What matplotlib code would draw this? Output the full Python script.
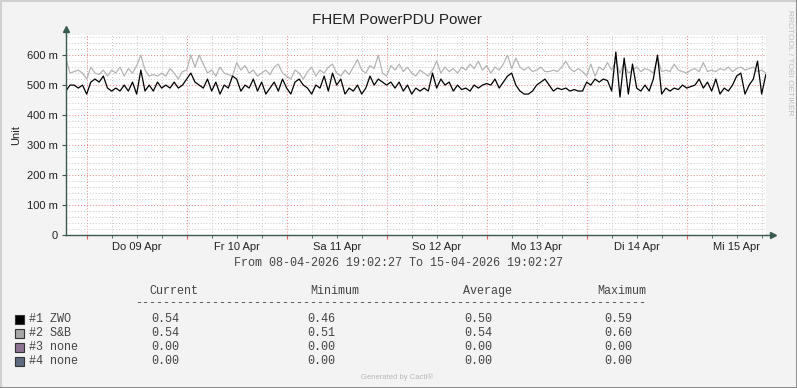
import matplotlib
matplotlib.use("Agg")
import matplotlib.pyplot as plt
import matplotlib.dates as mdates
from matplotlib.lines import Line2D
from matplotlib.patches import Rectangle
from matplotlib.ticker import MultipleLocator, FuncFormatter, NullFormatter
import pandas as pd

# hourly samples, 08-04-2026 19:00 .. 15-04-2026 19:00
start = "2026-04-08 19:00"
zwo = [
    0.48, 0.50, 0.50, 0.49, 0.50, 0.47, 0.51, 0.52, 0.51, 0.53,
    0.49, 0.48, 0.49, 0.48, 0.50, 0.48, 0.51, 0.47, 0.55, 0.48,
    0.50, 0.48, 0.51, 0.49, 0.50, 0.49, 0.51, 0.49, 0.50,
    0.52, 0.54, 0.51, 0.50, 0.49, 0.52, 0.48, 0.51, 0.47, 0.50,
    0.49, 0.53, 0.52, 0.48, 0.50, 0.49, 0.52, 0.48, 0.51, 0.47,
    0.49, 0.51, 0.48, 0.52, 0.49, 0.47, 0.51, 0.52, 0.50,
    0.49, 0.47, 0.50, 0.49, 0.53, 0.48, 0.54, 0.50, 0.52, 0.47,
    0.49, 0.48, 0.50, 0.47, 0.49, 0.53, 0.50, 0.52, 0.51, 0.50,
    0.51, 0.49, 0.51, 0.48, 0.50, 0.47, 0.49, 0.48, 0.49,
    0.48, 0.54, 0.49, 0.52, 0.50, 0.51, 0.48, 0.50, 0.485, 0.49,
    0.48, 0.50, 0.49, 0.50, 0.505, 0.50, 0.52, 0.49, 0.51, 0.53,
    0.54, 0.50, 0.48, 0.47, 0.47, 0.48, 0.50, 0.51, 0.52,
    0.50, 0.48, 0.49, 0.485, 0.49, 0.48, 0.485, 0.48, 0.48, 0.51,
    0.50, 0.52, 0.51, 0.52, 0.515, 0.48, 0.61, 0.46, 0.59, 0.47,
    0.57, 0.49, 0.48, 0.50, 0.48, 0.52, 0.60, 0.47, 0.49,
    0.48, 0.49, 0.485, 0.50, 0.49, 0.495, 0.50, 0.52, 0.49, 0.51,
    0.48, 0.52, 0.47, 0.49, 0.48, 0.50, 0.53, 0.54, 0.47, 0.50,
    0.52, 0.58, 0.47, 0.535,
]
snb = [
    0.59, 0.54, 0.545, 0.55, 0.54, 0.52, 0.56, 0.54, 0.535, 0.55,
    0.53, 0.55, 0.54, 0.56, 0.53, 0.555, 0.54, 0.565, 0.60, 0.55,
    0.53, 0.535, 0.53, 0.54, 0.53, 0.555, 0.54, 0.52, 0.545,
    0.55, 0.60, 0.56, 0.60, 0.57, 0.54, 0.55, 0.53, 0.56, 0.54,
    0.535, 0.53, 0.575, 0.55, 0.565, 0.54, 0.55, 0.53, 0.54, 0.55,
    0.535, 0.56, 0.57, 0.54, 0.53, 0.52, 0.55, 0.54, 0.52,
    0.545, 0.56, 0.53, 0.55, 0.54, 0.56, 0.57, 0.54, 0.53, 0.55,
    0.535, 0.56, 0.585, 0.55, 0.54, 0.565, 0.555, 0.60, 0.54, 0.53,
    0.565, 0.55, 0.57, 0.545, 0.56, 0.54, 0.53, 0.55, 0.54,
    0.53, 0.55, 0.58, 0.54, 0.56, 0.545, 0.555, 0.54, 0.56, 0.55,
    0.57, 0.555, 0.58, 0.55, 0.565, 0.54, 0.56, 0.55, 0.57, 0.60,
    0.555, 0.59, 0.56, 0.55, 0.56, 0.545, 0.55, 0.56, 0.545,
    0.545, 0.55, 0.545, 0.56, 0.58, 0.555, 0.545, 0.555, 0.545, 0.53,
    0.57, 0.53, 0.56, 0.55, 0.575, 0.55, 0.58, 0.54, 0.575, 0.54,
    0.55, 0.56, 0.545, 0.555, 0.55, 0.54, 0.59, 0.545, 0.55,
    0.545, 0.57, 0.55, 0.545, 0.54, 0.55, 0.555, 0.545, 0.575, 0.545,
    0.55, 0.545, 0.555, 0.55, 0.56, 0.545, 0.555, 0.56, 0.55, 0.555,
    0.56, 0.545, 0.55, 0.54,
]
times = pd.date_range(start, periods=len(zwo), freq="h")

day_labels = ["Do 09 Apr", "Fr 10 Apr", "Sa 11 Apr", "So 12 Apr",
              "Mo 13 Apr", "Di 14 Apr", "Mi 15 Apr"]
y_ticks = [0, 0.1, 0.2, 0.3, 0.4, 0.5, 0.6]
y_labels = ["0", "100 m", "200 m", "300 m", "400 m", "500 m", "600 m"]

legend_names = ["#1 ZWO", "#2 S&B", "#3 none", "#4 none"]
legend_colors = ["#000000", "#A8A8A8", "#8E7494", "#5E6A80"]
current = ["0.54", "0.54", "0.00", "0.00"]
minimum = ["0.46", "0.51", "0.00", "0.00"]
average = ["0.50", "0.54", "0.00", "0.00"]
maximum = ["0.59", "0.60", "0.00", "0.00"]

W, H = 797, 388
bg = "#F3F3F3"
axis_col = "#3A5A50"
sans = "Liberation Sans"
mono = "Liberation Mono"
mono_col = "#444444"
mono_size = 8.5

fig = plt.figure(figsize=(W / 100, H / 100), dpi=100, facecolor=bg)
ax = fig.add_axes([66 / W, 1 - 235 / H, 700 / W, 200 / H])
ax.set_facecolor("white")

ax.plot(times, snb, color="#B4B4B4", lw=0.9)
ax.plot(times, zwo, color="#000000", lw=0.9)

ax.set_xlim(pd.Timestamp("2026-04-08 19:02:27"), pd.Timestamp("2026-04-15 19:02:27"))
ax.set_ylim(0, 0.667)

# grid
ax.set_yticks(y_ticks)
ax.set_yticklabels(y_labels)
ax.yaxis.set_minor_locator(MultipleLocator(0.02))
ax.xaxis.set_major_locator(mdates.DayLocator())
ax.xaxis.set_minor_locator(mdates.HourLocator(byhour=[6, 12, 18]))
ax.xaxis.set_major_formatter(NullFormatter())
label_map = {pd.Timestamp("2026-04-09 12:00") + pd.Timedelta(days=i): s
             for i, s in enumerate(day_labels)}
ax.xaxis.set_minor_formatter(FuncFormatter(
    lambda v, p: label_map.get(pd.Timestamp(mdates.num2date(v)).tz_localize(None).round("h"), "")))

ax.grid(which="major", color="#F08080", linestyle=(0, (1, 2)), lw=0.7)
ax.grid(which="minor", color="#C8C8C8", linestyle=(0, (1, 2)), lw=0.7)
ax.set_axisbelow(True)

for s in ["top", "right"]:
    ax.spines[s].set_visible(False)
for s in ["left", "bottom"]:
    ax.spines[s].set_color(axis_col)
    ax.spines[s].set_linewidth(1.0)
ax.plot([0, 0], [1, 1.025], color=axis_col, lw=1.0, transform=ax.transAxes, clip_on=False)
ax.plot([1, 1.008], [0, 0], color=axis_col, lw=1.0, transform=ax.transAxes, clip_on=False)
ax.plot([0], [1.03], marker="^", ms=4, color=axis_col, transform=ax.transAxes, clip_on=False)
ax.plot([1.01], [0], marker=">", ms=4, color=axis_col, transform=ax.transAxes, clip_on=False)

ax.tick_params(axis="y", which="major", length=3, color=axis_col, labelsize=8,
               labelcolor="#222222", pad=3)
ax.tick_params(axis="y", which="minor", length=0)
ax.tick_params(axis="x", which="major", length=3, color="#E06060")
ax.tick_params(axis="x", which="minor", length=2, color=axis_col, labelsize=8,
               labelcolor="#222222", pad=3)
for lab in ax.get_xticklabels(minor=True) + ax.get_yticklabels():
    lab.set_fontfamily(sans)

ax.set_ylabel("Unit", fontsize=8, fontfamily=sans, color="#222222", labelpad=4)
fig.text(397 / W, 1 - 20 / H, "FHEM PowerPDU Power", ha="center", va="center",
         fontsize=11, fontfamily=sans, color="#222222")
fig.text(790 / W, 1 - 63 / H, "RRDTOOL / TOBI OETIKER", rotation=-90, ha="center",
         va="center", fontsize=6, fontfamily=sans, color="#BFBFBF")
fig.text(398 / W, 1 - 263 / H, "From 08-04-2026 19:02:27 To 15-04-2026 19:02:27",
         ha="center", va="center", fontsize=mono_size, fontfamily=mono, color=mono_col)

# legend table
hdr_y = 1 - 291 / H
for x, s in [(149, "Current"), (310, "Minimum"), (463, "Average"), (597, "Maximum")]:
    fig.text(x / W, hdr_y, s, ha="left", va="center", fontsize=mono_size,
             fontfamily=mono, color=mono_col)
fig.text(135 / W, 1 - 303 / H, "-" * 73, ha="left", va="center", fontsize=mono_size,
         fontfamily=mono, color=mono_col)
for i in range(4):
    yy = 319 + 14 * i
    fig.add_artist(Rectangle((15 / W, 1 - (yy + 4.5) / H), 9 / W, 9 / H,
                             facecolor=legend_colors[i], edgecolor="#333333", lw=0.8))
    fig.text(29 / W, 1 - yy / H, legend_names[i], ha="left", va="center",
             fontsize=mono_size, fontfamily=mono, color=mono_col)
    for x, col in [(151, current), (307, minimum), (464, average), (604, maximum)]:
        fig.text(x / W, 1 - yy / H, col[i], ha="left", va="center",
                 fontsize=mono_size, fontfamily=mono, color=mono_col)

fig.text(397 / W, 1 - 377 / H, "Generated by Cacti®", ha="center", va="center",
         fontsize=5.5, fontfamily=sans, color="#B8B8B8")

# 3d-ish frame
fig.add_artist(Line2D([0.5 / W, 0.5 / W, 1 - 0.5 / W], [0, 1 - 0.5 / H, 1 - 0.5 / H],
                      color="#D0D0D0", lw=1.5))
fig.add_artist(Line2D([0.5 / W, 1 - 0.5 / W, 1 - 0.5 / W], [0.5 / H, 0.5 / H, 1],
                      color="#909090", lw=1.5))

fig.savefig("out.png", dpi=100, facecolor=bg)
